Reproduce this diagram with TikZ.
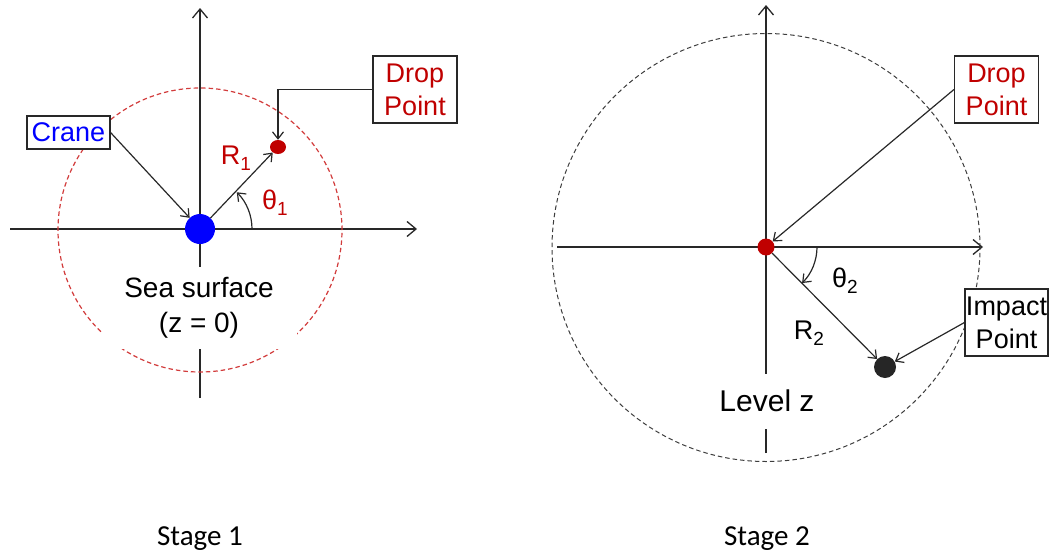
\documentclass[tikz,border=0pt]{standalone}
\usepackage{fontspec}
\setmainfont{Liberation Sans}
\newfontfamily\stagefont{Carlito}
\usetikzlibrary{arrows.meta,shapes.geometric}

\definecolor{dropred}{RGB}{192,0,0}
\definecolor{ringred}{RGB}{210,60,60}
\definecolor{axisgray}{RGB}{40,40,40}
\newcommand{\lowidx}[1]{\raisebox{-0.4ex}{\fontsize{19}{19}\selectfont #1}}

\tikzset{
  axis/.style={axisgray, line width=1.3pt, -{Straight Barb[length=9pt,width=15pt]}},
  pointer/.style={axisgray, line width=1.2pt, -{Straight Barb[length=7pt,width=11pt]}},
  labelbox/.style={draw=axisgray, line width=1.1pt, fill=white, inner sep=0pt,
    minimum width=84pt, minimum height=67pt, align=center, font=\fontsize{27}{33}\selectfont},
  ring/.style={dash pattern=on 4.5pt off 3pt, line width=1.2pt},
  lbl/.style={font=\fontsize{27}{33}\selectfont},
  mask/.style={lbl, fill=white, inner sep=0pt, align=center},
}

\begin{document}
\begin{tikzpicture}[x=1pt, y=-1pt]
    \useasboundingbox (0,0) rectangle (1052,557);

    % Stage 1
    \draw[axis] (10,229) -- (417,229);
    \draw[axis] (200,398) -- (200,8);
    \draw[ring, ringred] (200,230) circle[radius=142pt];
    \node[mask, font=\fontsize{28}{33}\selectfont, minimum width=195pt, minimum height=82pt] (sea) at (199,308) {Sea surface\\[2pt](z = 0)};

    \node[circle, fill=blue, minimum size=30pt, inner sep=0pt] (crane) at (200,229) {};
    \node[ellipse, fill=dropred, minimum width=16pt, minimum height=14pt, inner sep=0pt] (dropA) at (278,147) {};

    \node[labelbox, minimum width=83pt, minimum height=33pt, text=blue] (craneLbl) at (68.5,132.5) {Crane};
    \node[labelbox, text=dropred] (dropLblA) at (415,89.5) {Drop\\Point};

    \draw[pointer] (craneLbl.east) -- (crane);
    \draw[pointer] (dropLblA.west) -| (dropA);
    \draw[pointer] (crane) -- (dropA);
    \draw[pointer] (252,229) arc[start angle=0, end angle=45, radius=52pt];

    \node[lbl, text=dropred] (rA) at (236,158) {R\lowidx{1}};
    \node[lbl, text=dropred] (thA) at (275,203) {θ\lowidx{1}};

    % Stage 2
    \draw[axis] (557,247) -- (983,247);
    \draw[axis] (766,453) -- (766,5);
    \draw[ring, axisgray!90, line width=1pt] (766,247.5) circle[radius=214pt];
    \node[mask, font=\fontsize{30}{33}\selectfont, minimum width=112pt, minimum height=55pt] (level) at (767,401) {Level z};

    \node[circle, fill=dropred, minimum size=17pt, inner sep=0pt] (dropB) at (766,247) {};
    \node[circle, fill=black!85, minimum size=22pt, inner sep=0pt] (impact) at (885,367) {};

    \node[labelbox, text=dropred] (dropLblB) at (996.5,89.5) {Drop\\Point};
    \node[labelbox, minimum width=83pt] (impactLbl) at (1006.5,322.5) {Impact\\Point};

    \draw[pointer] (dropLblB.west) -- (dropB);
    \draw[pointer] (impactLbl.west) -- (impact);
    \draw[pointer] (dropB) -- (impact);
    \draw[pointer] (817,247) arc[start angle=0, end angle=-45, radius=51pt];

    \node[lbl] (rB) at (809,333) {R\lowidx{2}};
    \node[lbl] (thB) at (845,281) {θ\lowidx{2}};

    \node[font=\stagefont\fontsize{29}{29}\selectfont, anchor=base] (stageA) at (200,545) {Stage 1};
    \node[font=\stagefont\fontsize{29}{29}\selectfont, anchor=base] (stageB) at (767,545) {Stage 2};
\end{tikzpicture}
\end{document}
